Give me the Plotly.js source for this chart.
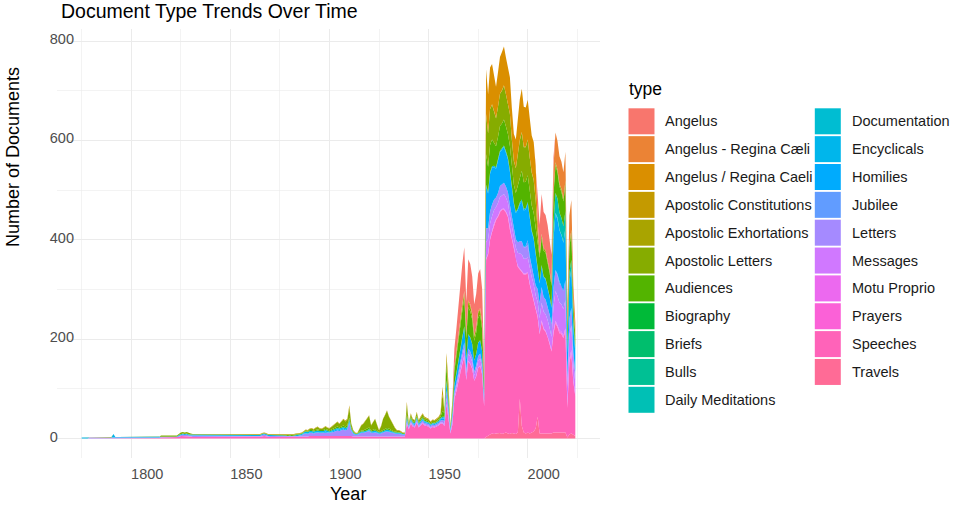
<!DOCTYPE html>
<html>
<head>
<meta charset="utf-8">
<script src="https://cdn.plot.ly/plotly-3.0.1.min.js"></script>
<style>html,body{margin:0;padding:0;background:#fff;}#chart{width:954px;height:511px;}</style>
</head>
<body>
<div id="chart"></div>
<script>
// ---------------- DATA ----------------
const firstYear = 1775, lastYear = 2024;
const years = [];
for (let y = firstYear; y <= lastYear; y++) years.push(y);

// legend order (ggplot factor levels)
const types = ["Angelus", "Angelus - Regina Cæli", "Angelus / Regina Caeli", "Apostolic Constitutions",
  "Apostolic Exhortations", "Apostolic Letters", "Audiences", "Biography", "Briefs", "Bulls",
  "Daily Meditations", "Documentation", "Encyclicals", "Homilies", "Jubilee", "Letters",
  "Messages", "Motu Proprio", "Prayers", "Speeches", "Travels"];

// Speeches, 1775-2024
const speeches = [
  0,0,0,0,
  1,1,1,1,1,1,1,1,1,1,1,1,
  1,
  1,1,1,1,1,1,1,1,1,1,1,1,1,1,1,1,1,1,1,1,1,1,1,
  2,2,2,2,2,2,2,2,2,
  3,5,5,5,5,4,4,3,3,
  3,3,3,3,3,3,3,3,3,3, 3,3,3,3,3,3,3,3,3,3, 3,3,3,3,3,3,3,3,3,3, 3,3,3,4,5,4,3,3,3,3, 3,3,3,3,3,
  3,3,3,3,3,3,3,3,3,4, 4,4,5,5,5,5,5,5,5,5, 5,5,5,5,5,6,6,6,6,6, 6,6,6,5,4,4,4,4,4,4,
  4,4,5,4,4,4,4,4,4,5, 5,5,5,5,4,4,4,4,4,4, 4,
  30,18,30,24,22,32,22,27,30,26,25,24,20,23,22,24,26,30,30,
  25,70,40,10,28,
  80,95,115,135,150,165,118,155,150,140,116,125,142,146,129,65,
  357,364,392,405,421,430,436,444,451,450,443,436,411,389,375,351,333,260,310,318,320,320,300,283,266,240,
  200,200,225,210,205,195,180,165,
  200,220,212,200,198,190,205,60,145,160,105,80
];
const speechesStart = 1775;

// Letters, 1775-2024
const letters = [
  0,0,0,0,
  1,1,1,1,1,1,1,1,1,1,1,1,
  0,
  1,1,1,1,1,1,1,1,1,1,1,1,1,1,1,1,1,1,1,1,1,1,1,
  1,1,1,1,1,1,1,1,1,
  2,2,3,2,3,2,2,2,2,
  2,2,2,2,2,2,2,2,2,2, 2,2,2,2,2,2,2,2,2,2, 2,2,2,2,2,2,2,2,2,2, 2,2,2,3,3,3,2,2,2,2, 2,2,2,2,2,
  2,1,2,1,2,2,2,3,3,5, 6,5,6,6,5,6,7,6,6,6, 7,6,6,7,8,9,10,9,10,12, 10,12,25,10,5,3,3,5,7,7,
  8,9,10,7,8,8,7,5,6,7, 8,9,8,7,6,5,5,5,4,3, 3,
  5,3,4,3,3,4,3,3,4,3,3,3,3,3,3,3,3,4,5,
  6,15,12,3,10,
  6,7,8,9,10,11,8,11,10,10,8,9,10,10,9,5,
  27,22,24,23,21,19,20,22,22,23,22,21,21,18,16,17,21,24,26,23,23,24,23,22,22,20,
  25,30,32,30,30,28,27,25,
  38,42,41,38,38,37,40,20,33,35,22,18
];
const lettersStart = 1775;

// Encyclicals, 1775-2024
const encyclicals = [
  2,2,2,2,
  0,0,0,0,0,0,0,0,0,0,0,0,
  8,
  1,1,1,1,1,1,1,1,1,1,1,1,1,1,1,1,1,1,1,1,1,1,1,
  1,1,1,1,1,1,1,1,1,
  2,2,2,2,2,2,2,2,2,
  2,2,2,2,2,2,2,2,2,2, 2,2,2,2,2,2,2,2,2,2, 2,2,2,2,2,2,2,2,2,2, 2,2,2,2,2,2,2,2,2,2, 2,2,2,2,2,
  1,1,1,1,1,2,2,2,2,2, 3,3,3,3,3,3,3,3,3,3, 3,3,2,3,3,3,3,3,3,3, 3,3,4,2,2,1,1,2,2,2,
  2,2,2,2,2,3,2,2,2,2, 3,3,3,2,2,2,2,2,2,1, 1,
  4,1,2,1,2,2,1,2,2,2,1,1,1,1,1,1,2,2,3,
  2,3,2,1,1,
  2,2,2,1,2,2,1,0,1,0,0,0,1,0,0,1,
  4,3,3,3,3,3,3,3,3,3,3,3,3,3,2,2,3,3,4,3,3,3,3,3,3,3,
  2,1,1,0,1,0,0,0,
  2,0,3,0,0,0,0,2,0,0,1,0
];
const encyclicalsStart = 1775;

// Homilies, 1878-2024
const homilies = [
  0,0,0,0,0,0,0,0,1,1, 1,1,1,1,1,1,1,1,1,1, 2,1,1,1,2,2,2,2,2,2, 2,2,3,2,1,1,1,1,1,1,
  1,1,2,1,1,1,1,1,1,1, 1,1,1,1,1,1,1,1,1,1, 1,
  3,2,3,2,2,3,2,2,3,2,2,2,2,2,2,2,2,3,4,
  5,15,10,3,8,
  14,18,21,25,28,31,22,29,28,26,22,23,26,27,24,12,
  84,70,76,74,65,58,64,68,69,72,68,66,67,57,50,53,65,75,80,74,73,74,73,69,69,63,
  45,40,42,40,40,38,36,33,
  98,114,110,103,101,97,104,49,74,78,50,38
];
const homiliesStart = 1878;

// Messages, 1939-2024
const messages = [
  2,2,2,2,2,2,2,2,2,2,2,2,2,2,2,2,2,2,2,
  4,12,8,2,6,
  7,9,10,12,14,15,11,14,14,13,11,12,13,14,12,6,
  34,29,31,30,27,24,26,28,28,29,28,27,27,23,20,22,27,31,33,30,30,30,30,28,28,26,
  30,30,35,33,33,32,30,28,
  50,60,58,55,55,53,57,35,48,50,32,25
];
const messagesStart = 1939;

// Audiences, 1878-2024
const audiences = [
  1,1,1,1,1,1,1,1,1,1, 1,1,2,2,2,2,2,2,2,2, 2,2,2,2,2,2,3,2,3,3, 3,3,4,3,2,1,1,2,2,2,
  3,3,3,2,2,3,2,1,2,2, 3,3,3,2,2,2,1,1,1,1, 1,
  5,2,3,2,2,3,2,3,3,3,3,2,2,2,2,2,3,3,12,
  7,30,20,3,10,
  27,33,40,46,52,57,41,54,52,49,40,43,50,51,45,22,
  61,51,55,54,47,42,46,50,50,52,50,48,49,42,36,38,47,54,58,54,53,54,53,50,50,46,
  45,50,55,52,52,50,47,43,
  55,56,53,52,52,50,54,35,52,53,32,23
];
const audiencesStart = 1878;

// Apostolic Letters, 1779-2024
const apostolicLetters = [
  1,1,1,1,1,1,1,1,1,1,1,1,
  0,
  0,0,0,0,0,0,0,0,0,0,0,0,0,0,0,0,0,0,0,0,0,0,0,
  2,2,2,2,2,2,2,2,2,
  2,3,3,3,3,3,2,2,2,
  1,1,1,1,1,1,1,1,1,1, 1,1,1,1,1,1,1,1,1,1, 1,1,1,1,1,1,1,1,1,1, 1,1,1,1,1,1,1,1,1,1, 1,1,1,1,1,
  1,1,1,1,1,1,1,1,1,2, 2,2,2,3,2,4,5,3,2,4, 5,4,4,5,7,8,9,7,9,12, 10,12,20,7,2,1,0,5,10,13,
  16,20,24,10,15,20,11,3,9,22, 27,35,24,19,12,7,3,3,2,1, 1,
  20,3,5,4,3,6,4,4,5,4,4,4,3,4,4,4,4,5,33,
  4,15,10,2,8,
  6,7,8,9,10,11,8,11,10,9,8,9,10,10,9,4,
  80,67,72,70,62,56,61,65,66,68,65,63,64,55,47,50,62,71,77,70,69,71,69,66,66,60,
  20,5,7,5,5,5,5,4,
  5,6,5,5,5,5,6,4,5,6,3,2
];
const apostolicLettersStart = 1779;

// Apostolic Constitutions, 1833-1978
const apostolicConstitutions = [
  1,1,1,1,1,1,1,1,1,1, 1,1,1,1,1,1,1,1,1,1, 1,1,1,1,1,1,1,1,1,1, 1,1,1,1,1,1,1,1,1,1, 1,1,1,1,1,
  1,1,1,1,1,1,1,1,1,1, 1,1,1,1,1,1,1,1,1,1, 1,1,1,1,1,1,1,1,2,2, 2,2,5,1,1,1,1,1,1,1,
  1,1,1,1,1,1,1,1,1,1, 1,1,1,1,1,1,1,1,1,1, 1,
  5,1,2,2,1,2,1,2,2,2,2,2,1,1,1,2,2,2,15,
  2,10,8,1,4,
  3,3,3,3,4,3,3,3,4,3,3,2,2,3,3,1
];
const apostolicConstitutionsStart = 1833;

// Angelus / Regina Caeli, 1979-2005
const angelusSlashReginaCaeli = [90,78,84,81,70,63,69,74,77,78,74,71,74,62,54,58,70,82,87,81,79,80,79,74,76,69,25];
const angelusSlashReginaCaeliStart = 1979;

// Angelus - Regina Cæli, 2013-2024
const angelusDashReginaCaeli = [50,60,58,55,55,54,58,37,57,60,35,25];
const angelusDashReginaCaeliStart = 2013;

// Angelus, 1963-2013
const angelus = [
  35,46,58,70,80,88,63,83,81,75,62,67,76,79,69,34,
  0,0,0,0,0,0,0,0,0,0,0,0,0,0,0,0,0,0,0,0,0,0,0,0,0,0,
  51,60,80,73,71,68,64,58,20
];
const angelusStart = 1963;

// Travels, 1979-2024
const travels = [
  3,6,8,10,9,10,10,11,9,10,12,10,9,11,10,9,12,80,25,12,10,12,10,12,14,20,
  44,10,10,10,10,10,10,10,
  12,12,12,12,12,12,12,2,8,10,8,5
];
const travelsStart = 1979;

// Daily Meditations, 2013-2024
const dailyMeditations = [30,40,38,35,34,32,34,6,18,18,12,9];
const dailyMeditationsStart = 2013;

// Motu Proprio, 1963-2024
const motuProprio = [
  1,1,2,1,1,2,1,1,1,1,0,1,1,1,1,0,
  1,1,1,1,2,1,1,1,1,2,1,1,1,1,1,1,1,1,1,1,1,1,1,1,1,1,
  1,1,2,1,1,1,2,1,
  2,3,3,4,3,3,3,4,5,6,3,2
];
const motuProprioStart = 1963;

// Prayers, 1979-2024
const prayers = [
  1,1,1,2,1,1,1,2,1,1,1,1,1,2,1,1,1,1,2,1,1,2,1,1,1,1,
  1,1,1,1,1,1,1,1,2,2,2,2,2,2,2,3,2,2,1,1
];
const prayersStart = 1979;

// Apostolic Exhortations, 1975-2024
const apostolicExhortations = [
  1,0,0,0,1,1,0,1,1,1, 0,0,1,1,0,0,0,1,1,0, 0,1,1,1,1,1,1,1,1,0,
  0,1,1,0,0,1,0,1,1,0, 0,1,1,0,1,0,1,1,1,1
];
const apostolicExhortationsStart = 1975;

// Jubilee, 1998-2024
const jubilee = [0,3,10,2,0,0,0,0,0,0,0,0,0,0,0,0,0,3,5,0,0,0,0,0,0,2,4];
const jubileeStart = 1998;

// Documentation, 2005-2024
const documentation = [1,1,1,1,1,1,1,1,1,1,1,1,1,1,1,0,1,1,1,1];
const documentationStart = 2005;

// Biography, 2005-2013
const biography = [1,0,0,0,0,0,0,0,1];
const biographyStart = 2005;

// Briefs, 1958-1962
const briefs = [1,1,1,0,1];
const briefsStart = 1958;

// Bulls, 1958-1962
const bulls = [1,1,1,1,1];
const bullsStart = 1958;

// ---------------- BUILD ----------------
const seriesTable = {
  "Angelus": [angelus, angelusStart, 2013],
  "Angelus - Regina Cæli": [angelusDashReginaCaeli, angelusDashReginaCaeliStart, 2024],
  "Angelus / Regina Caeli": [angelusSlashReginaCaeli, angelusSlashReginaCaeliStart, 2005],
  "Apostolic Constitutions": [apostolicConstitutions, apostolicConstitutionsStart, 1978],
  "Apostolic Exhortations": [apostolicExhortations, apostolicExhortationsStart, 2024],
  "Apostolic Letters": [apostolicLetters, apostolicLettersStart, 2024],
  "Audiences": [audiences, audiencesStart, 2024],
  "Biography": [biography, biographyStart, 2013],
  "Briefs": [briefs, briefsStart, 1962],
  "Bulls": [bulls, bullsStart, 1962],
  "Daily Meditations": [dailyMeditations, dailyMeditationsStart, 2024],
  "Documentation": [documentation, documentationStart, 2024],
  "Encyclicals": [encyclicals, encyclicalsStart, 2024],
  "Homilies": [homilies, homiliesStart, 2024],
  "Jubilee": [jubilee, jubileeStart, 2024],
  "Letters": [letters, lettersStart, 2024],
  "Messages": [messages, messagesStart, 2024],
  "Motu Proprio": [motuProprio, motuProprioStart, 2024],
  "Prayers": [prayers, prayersStart, 2024],
  "Speeches": [speeches, speechesStart, 2024],
  "Travels": [travels, travelsStart, 2024]
};

const problems = [];
function fullSeries(name) {
  const [arr, start, end] = seriesTable[name];
  if (arr.length !== end - start + 1) problems.push(name + ": " + arr.length + " vs " + (end - start + 1));
  return years.map(y => (y >= start && y - start < arr.length) ? arr[y - start] : 0);
}

// ggplot2 default hue palette (HCL, c=100, l=65)
function hcl2hex(h, c, l) {
  const hr = h * Math.PI / 180;
  const U = c * Math.cos(hr), V = c * Math.sin(hr);
  const Xn = 95.047, Yn = 100, Zn = 108.883;
  const Y = l > 7.999592 ? Yn * Math.pow((l + 16) / 116, 3) : Yn * l / 903.3;
  const den = Xn + 15 * Yn + 3 * Zn;
  const un = 4 * Xn / den, vn = 9 * Yn / den;
  const u = U / (13 * l) + un, v = V / (13 * l) + vn;
  const X = 9 * Y * u / (4 * v);
  const Z = -X / 3 - 5 * Y + 3 * Y / v;
  const x = X / 100, yy = Y / 100, z = Z / 100;
  const lin = [
    3.240479 * x - 1.537150 * yy - 0.498535 * z,
    -0.969256 * x + 1.875992 * yy + 0.041556 * z,
    0.055648 * x - 0.204043 * yy + 1.057311 * z
  ];
  return "#" + lin.map(t => {
    let g = t <= 0.0031308 ? 12.92 * t : 1.055 * Math.pow(t, 1 / 2.4) - 0.055;
    g = Math.max(0, Math.min(1, g));
    return Math.round(g * 255).toString(16).padStart(2, "0");
  }).join("");
}
const n = types.length;
const colors = types.map((t, i) => hcl2hex(15 + i * 360 / n, 100, 65));

// traces: bottom of stack = last level
const traces = [];
for (let i = n - 1; i >= 0; i--) {
  traces.push({
    type: "scatter", mode: "lines", name: types[i],
    x: years, y: fullSeries(types[i]),
    stackgroup: "one", line: { width: 0, color: colors[i] },
    fillcolor: colors[i], hoverinfo: "x+y+name", showlegend: false
  });
}

// ---------------- LAYOUT ----------------
const FONT = '"Liberation Sans", Arial, Helvetica, sans-serif';
const L = 57, R = 600, T = 29, B = 458;
const px2x = px => (px - L) / (R - L);
const py2y = py => (B - py) / (B - T);

const shapes = [], annotations = [];
types.forEach((t, i) => {
  const col = i < 11 ? 0 : 1;
  const row = col === 0 ? i : i - 11;
  const kx = col === 0 ? 628.5 : 814.8;
  const cy = 121.3 + 27.85 * row;
  shapes.push({ type: "rect", xref: "paper", yref: "paper",
    x0: px2x(kx), x1: px2x(kx + 26), y0: py2y(cy + 13), y1: py2y(cy - 13),
    fillcolor: colors[i], line: { width: 0 }, layer: "above" });
  annotations.push({ xref: "paper", yref: "paper", x: px2x(col === 0 ? 663 : 850), y: py2y(cy),
    xanchor: "left", yanchor: "middle", showarrow: false, text: t,
    font: { family: FONT, size: 14.5, color: "#1a1a1a" } });
});
annotations.push({ xref: "paper", yref: "paper", x: px2x(627), y: py2y(88.5), xanchor: "left", yanchor: "middle",
  showarrow: false, text: "type", font: { family: FONT, size: 17.5, color: "#000" } });
annotations.push({ xref: "paper", yref: "paper", x: px2x(348), y: py2y(494), xanchor: "center", yanchor: "middle",
  showarrow: false, text: "Year", font: { family: FONT, size: 18, color: "#000" } });
annotations.push({ xref: "paper", yref: "paper", x: px2x(13), y: py2y(157), xanchor: "center", yanchor: "middle",
  showarrow: false, text: "Number of Documents", textangle: -90, font: { family: FONT, size: 18, color: "#000" } });

const xTicks = [1800, 1850, 1900, 1950, 2000];
const yTicks = [0, 200, 400, 600, 800];
const fs = "\u2007";

const layout = {
  width: 954, height: 511,
  margin: { l: L, r: 954 - R, t: T, b: 511 - B, pad: 0 },
  paper_bgcolor: "#fff", plot_bgcolor: "#fff",
  showlegend: false,
  font: { family: FONT },
  title: { text: "Document Type Trends Over Time", font: { family: FONT, size: 19.5, color: "#000" },
    xref: "container", yref: "container", x: 61 / 954, xanchor: "left", y: 1 - 11 / 511, yanchor: "middle" },
  xaxis: {
    range: [1762.55, 2036.45], tickmode: "array", tickvals: xTicks, ticktext: xTicks.map(String),
    showgrid: true, gridcolor: "#EBEBEB", gridwidth: 1.1, zeroline: false, showline: false, ticks: "",
    tickfont: { family: FONT, size: 14.5, color: "#4D4D4D" }, ticklabelshift: 16, ticklabelstandoff: 5,
    minor: { tickvals: [1775, 1825, 1875, 1925, 1975, 2025], showgrid: true, gridcolor: "#EBEBEB", gridwidth: 0.6 }
  },
  yaxis: {
    range: [-39.25, 824.25], tickmode: "array", tickvals: yTicks,
    ticktext: yTicks.map(v => { const s = String(v); return s + fs.repeat(3 - s.length); }),
    showgrid: true, gridcolor: "#EBEBEB", gridwidth: 1.1, zeroline: false, showline: false, ticks: "",
    tickfont: { family: FONT, size: 14.5, color: "#4D4D4D" }, ticklabelstandoff: -18, ticklabelshift: -2,
    minor: { tickvals: [100, 300, 500, 700], showgrid: true, gridcolor: "#EBEBEB", gridwidth: 0.6 }
  },
  shapes: shapes,
  annotations: annotations
};

Plotly.newPlot("chart", traces, layout, { displayModeBar: false, staticPlot: true });
if (problems.length) throw new Error("Length mismatch: " + problems.join("; "));
</script>
</body>
</html>
